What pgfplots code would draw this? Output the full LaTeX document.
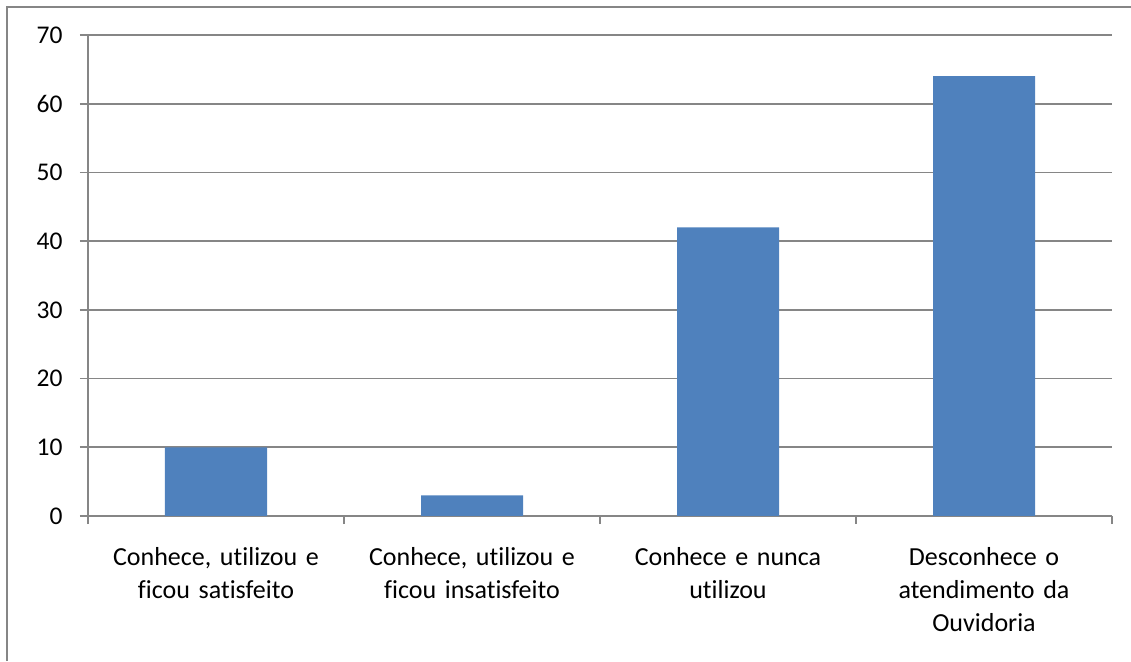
\documentclass[border=0pt]{standalone}
\usepackage{pgfplots}
\pgfplotsset{compat=1.18}
\usepackage{fontspec}
\setmainfont[Ligatures=NoCommon]{Carlito}
\definecolor{barblue}{HTML}{4F81BD}
\definecolor{linegray}{HTML}{868686}
\begin{document}
\begin{tikzpicture}[x=1pt,y=1pt]
\useasboundingbox (0,0) rectangle (1131,661);
\draw[linegray, line width=2pt] (7,0) -- (7,654) -- (1131,654);
\begin{axis}[
  at={(88pt,145pt)}, anchor=south west,
  scale only axis,
  width=1024pt, height=481pt,
  xmin=-0.5, xmax=3.5,
  ymin=0, ymax=70,
  ytick={0,10,...,70},
  ymajorgrids=true,
  grid style={linegray, line width=1.6pt},
  axis x line*=bottom,
  axis y line*=left,
  axis line style={linegray, line width=1.6pt},
  tick style={linegray, line width=1.6pt},
  ytick pos=left,
  tick align=outside,
  major tick length=8pt,
  xtick={-0.5,0.5,1.5,2.5,3.5},
  xticklabels={},
  extra x ticks={0,1,2,3},
  extra x tick labels={{Conhece, utilizou e\\ficou satisfeito},
               {Conhece, utilizou e\\ficou insatisfeito},
               {Conhece e nunca\\utilizou},
               {Desconhece o\\atendimento da\\Ouvidoria}},
  extra x tick style={major tick length=0pt, xmajorgrids=false,
    xticklabel style={align=center, text width=240pt, font=\fontsize{26}{33}\selectfont, yshift=-28pt}},
  yticklabel style={font=\fontsize{25.5}{30}\selectfont, xshift=-14pt},
  /pgf/number format/assume math mode=true,
  ybar, bar width=102pt,
  clip=false,
]
\addplot[fill=barblue, draw=none] coordinates {(0,10) (1,3) (2,42) (3,64)};
\end{axis}
\end{tikzpicture}
\end{document}
